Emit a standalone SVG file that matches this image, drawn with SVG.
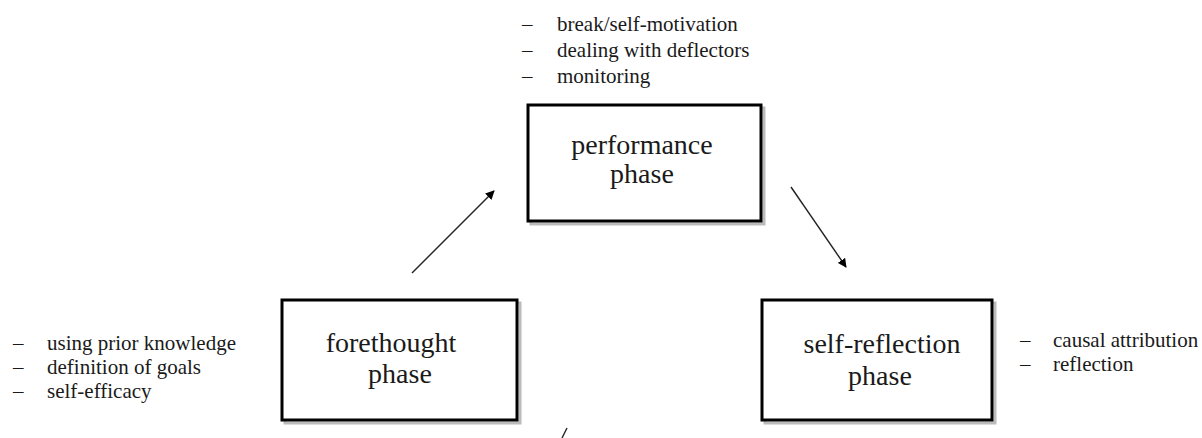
<svg xmlns="http://www.w3.org/2000/svg" width="1202" height="438" viewBox="0 0 1202 438">
<defs>
<style>
.box{fill:#fff;stroke:#000;stroke-width:3}
.shadow{fill:none;stroke:#bbb;stroke-width:3}
text{font-family:'Liberation Serif','Times New Roman',Tinos,'DejaVu Serif',serif;fill:#1a1a1a}
.title{font-size:28px;text-anchor:middle}
.item{font-size:21px}
.conn{stroke:#222;stroke-width:1.4;fill:none}
</style>
<marker id="ah" viewBox="0 0 10 10" refX="9" refY="5" markerWidth="9" markerHeight="9" markerUnits="userSpaceOnUse" orient="auto">
<path d="M0,0 L10,5 L0,10 z" fill="#000"/>
</marker>
</defs>
<rect width="1202" height="438" fill="#fff"/>

<g id="performance" font-family="Liberation Serif, Times New Roman, serif">
<rect class="shadow" x="531" y="108" width="233" height="116"/>
<rect class="box" x="528" y="105" width="233" height="116"/>
<text class="title" x="642" y="154">performance</text>
<text class="title" x="642" y="183">phase</text>
<text class="item" x="522" y="31">–</text>
<text class="item" x="557" y="31">break/self-motivation</text>
<text class="item" x="522" y="57">–</text>
<text class="item" x="557" y="57">dealing  with deflectors</text>
<text class="item" x="522" y="83">–</text>
<text class="item" x="557" y="83">monitoring</text>
</g>

<g id="forethought" font-family="Liberation Serif, Times New Roman, serif">
<rect class="shadow" x="285" y="303" width="235" height="120"/>
<rect class="box" x="282" y="300" width="235" height="120"/>
<text class="title" x="391" y="352">forethought</text>
<text class="title" x="400" y="383">phase</text>
<text class="item" x="13" y="350">–</text>
<text class="item" x="47" y="350">using prior knowledge</text>
<text class="item" x="13" y="374">–</text>
<text class="item" x="47" y="374">definition  of goals</text>
<text class="item" x="13" y="398">–</text>
<text class="item" x="47" y="398">self-efficacy</text>
</g>

<g id="self-reflection" font-family="Liberation Serif, Times New Roman, serif">
<rect class="shadow" x="765" y="303" width="230" height="120"/>
<rect class="box" x="762" y="300" width="230" height="120"/>
<text class="title" x="882" y="353">self-reflection</text>
<text class="title" x="880" y="385">phase</text>
<text class="item" x="1020" y="347">–</text>
<text class="item" x="1053" y="347">causal attribution</text>
<text class="item" x="1020" y="371">–</text>
<text class="item" x="1053" y="371">reflection</text>
</g>

<g id="connectors">
<line class="conn" x1="412" y1="273" x2="494" y2="191" marker-end="url(#ah)"/>
<line class="conn" x1="791" y1="187" x2="846" y2="267" marker-end="url(#ah)"/>
<path class="conn" d="M567,428 L562,438"/>
</g>
</svg>
